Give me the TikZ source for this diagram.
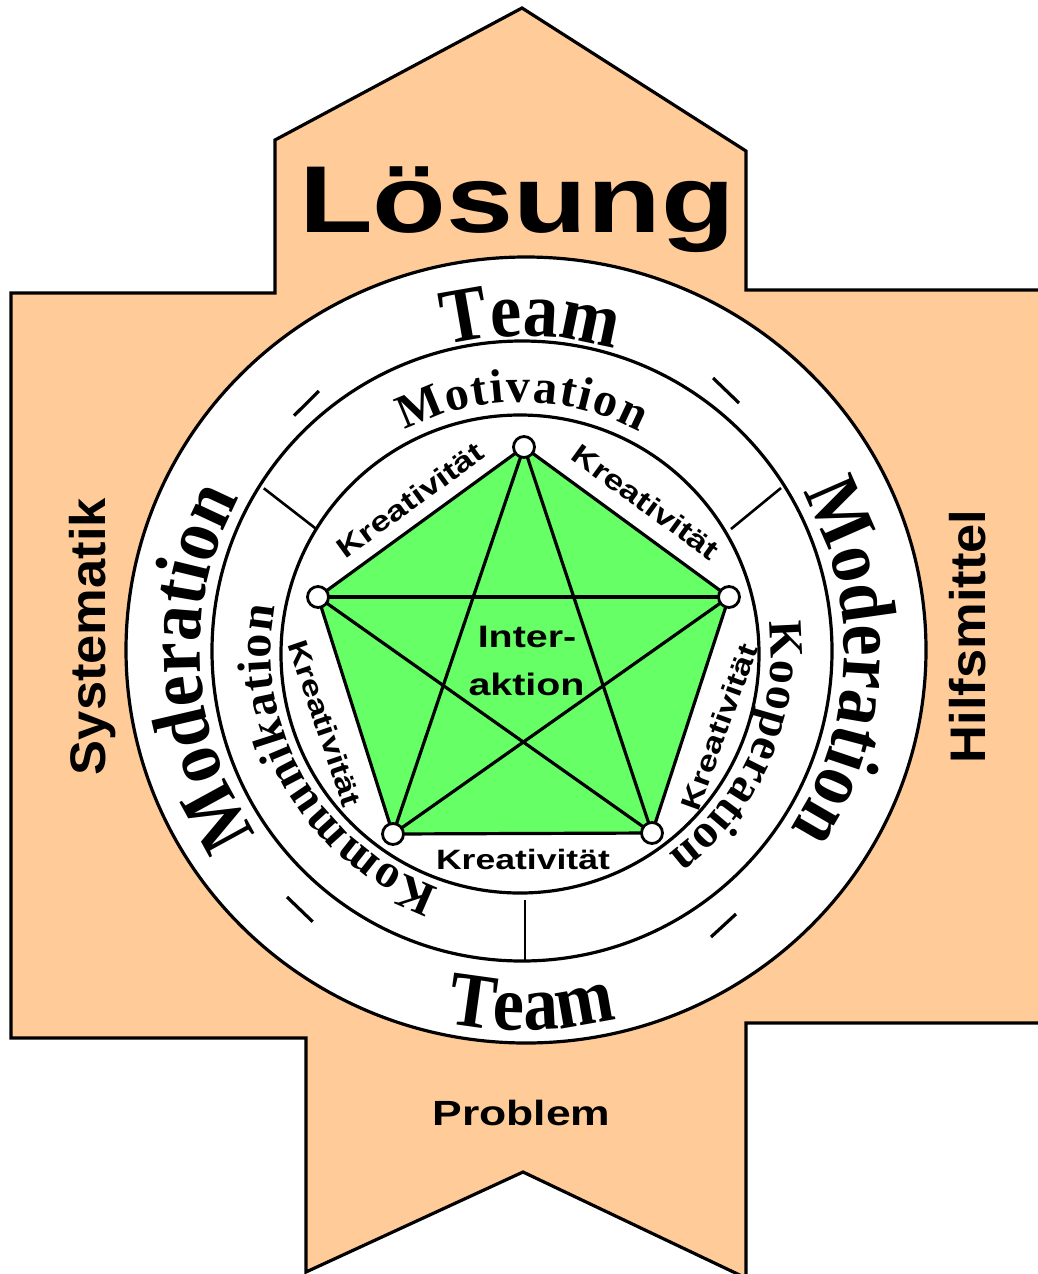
\documentclass[tikz,border=0pt]{standalone}
\usepackage{fontspec}
\setmainfont{Liberation Serif}
\newfontfamily\serifc[FakeStretch=0.9]{Liberation Serif}
\newfontfamily\sansx[FakeStretch=1.27]{Liberation Sans}
\newfontfamily\sansy[FakeStretch=1.05]{Liberation Sans}
\usetikzlibrary{decorations.text}
\definecolor{peach}{HTML}{FFCC99}
\definecolor{pgreen}{HTML}{66FF66}
\begin{document}
\begin{tikzpicture}[x=1pt,y=1pt,
  ln/.style={line width=3.2pt},
  thin/.style={line width=2.6pt},
  vtx/.style={circle, draw, fill=white, line width=2.8pt, minimum size=21pt, inner sep=0pt},
  kre/.style={font=\sansx\bfseries\fontsize{28}{28}\selectfont, inner sep=0pt},
  side/.style={font=\sansy\bfseries\fontsize{50}{50}\selectfont, inner sep=0pt, rotate=90, anchor=base},
  lbl/.style={inner sep=0pt, anchor=base}]
\useasboundingbox (0,0) rectangle (1038,-1274);
\clip (0,0) rectangle (1038,-1274);
% orange shape
\draw[ln, fill=peach] (11,-293) -- (275,-293) -- (275,-140) -- (522,-8) -- (746,-151) -- (746,-290)
  -- (1050,-290) -- (1050,-1023) -- (746,-1023) -- (746,-1278) -- (523,-1172) -- (306,-1272)
  -- (306,-1038) -- (11,-1038) -- cycle;
% rings
\draw[ln, fill=white] (526,-650) ellipse [x radius=400, y radius=393];
\draw[ln] (522,-651) circle [radius=310];
\draw[ln] (520,-654) circle [radius=239];
% dividers in middle ring
\coordinate (d1a) at (263.8,-488.3); \coordinate (d1b) at (315.4,-528.3);
\coordinate (d2a) at (781,-488); \coordinate (d2b) at (731,-529);
\coordinate (d3a) at (525,-900); \coordinate (d3b) at (525,-962);
\draw[thin] (d1a) -- (d1b);
\draw[thin] (d2a) -- (d2b);
\draw[thin] (d3a) -- (d3b);
% dashes in outer ring
\coordinate (e1a) at (294,-415.7); \coordinate (e1b) at (318.9,-391);
\coordinate (e2a) at (713,-378); \coordinate (e2b) at (739,-403);
\coordinate (e3a) at (287,-897); \coordinate (e3b) at (312.7,-921.7);
\coordinate (e4a) at (711,-937); \coordinate (e4b) at (736,-914);
\draw[ln] (e1a) -- (e1b);
\draw[ln] (e2a) -- (e2b);
\draw[ln] (e3a) -- (e3b);
\draw[ln] (e4a) -- (e4b);
% pentagon
\coordinate (p1) at (524,-447);
\coordinate (p2) at (729,-597);
\coordinate (p3) at (652,-833);
\coordinate (p4) at (393,-834);
\coordinate (p5) at (318,-597);
\fill[pgreen] (p1) -- (p2) -- (p3) -- (p4) -- (p5) -- cycle;
\draw[ln, line join=round] (p1) -- (p2) -- (p3) -- (p4) -- (p5) -- cycle;
\draw[ln] (p1) -- (p3);
\draw[ln] (p1) -- (p4);
\draw[ln] (p2) -- (p4);
\draw[ln] (p2) -- (p5);
\draw[ln] (p3) -- (p5);
\node[vtx] (v1) at (p1) {};
\node[vtx] (v2) at (p2) {};
\node[vtx] (v3) at (p3) {};
\node[vtx] (v4) at (p4) {};
\node[vtx] (v5) at (p5) {};
% Kreativitaet labels
\node[kre, rotate=36] (k1) at (410,-500) {Kreativität};
\node[kre, rotate=-36] (k2) at (646,-502) {Kreativität};
\node[kre, rotate=70] (k3) at (719,-727) {Kreativität};
\node[kre, rotate=-71] (k4) at (325,-723) {Kreativität};
\node[kre] (k5) at (523,-859) {Kreativität};
% center
\node[lbl, font=\sansx\bfseries\fontsize{31}{31}\selectfont] (in1) at (527,-647) {Inter-};
\node[lbl, font=\sansx\bfseries\fontsize{31}{31}\selectfont] (in2) at (526.5,-695) {aktion};
% big labels
\node[lbl, font=\sansx\bfseries\fontsize{95}{95}\selectfont] (loe) at (517,-232) {Lösung};
\node[lbl, font=\sansx\bfseries\fontsize{35}{35}\selectfont] (prob) at (521.5,-1125) {Problem};
\node[side] (sys) at (105,-636.5) {Systematik};
\node[side] (hilf) at (985,-636.5) {Hilfsmittel};
% outer ring curved texts
\path[decorate, decoration={text along path, text={|\serifc\bfseries\fontsize{78}{78}\selectfont|Team}, text align=center}]
  (522,-651) ++(150:315) arc[start angle=150, end angle=27, radius=315];
\path[decorate, decoration={text along path, text={|\serifc\bfseries\fontsize{78}{78}\selectfont|Team}, text align=center}]
  (522,-651) ++(225:379) arc[start angle=225, end angle=318, radius=379];
\path[decorate, decoration={text along path, text={|\serifc\bfseries\fontsize{78}{78}\selectfont|Moderation}, text align=center}]
  (522,-651) ++(235:322) arc[start angle=235, end angle=131, radius=322];
\path[decorate, decoration={text along path, text={|\serifc\bfseries\fontsize{78}{78}\selectfont|Moderation}, text align=center}]
  (522,-651) ++(50:322) arc[start angle=50, end angle=-54, radius=322];
% middle ring curved texts
\path[decorate, decoration={text along path, text={|\bfseries\fontsize{48}{48}\selectfont|Motivation}, text align={fit to path}}]
  (521,-652) ++(117.6:250) arc[start angle=117.6, end angle=61.8, radius=250];
\path[decorate, decoration={text along path, text={|\bfseries\fontsize{48}{48}\selectfont|Kommunikation}, text align={fit to path}}]
  (521,-652) ++(250.8:250) arc[start angle=250.8, end angle=169.5, radius=250];
\path[decorate, decoration={text along path, text={|\bfseries\fontsize{48}{48}\selectfont|Kooperation}, text align={fit to path}}]
  (521,-652) ++(7:250) arc[start angle=7, end angle=-53.8, radius=250];
\end{tikzpicture}
\end{document}
